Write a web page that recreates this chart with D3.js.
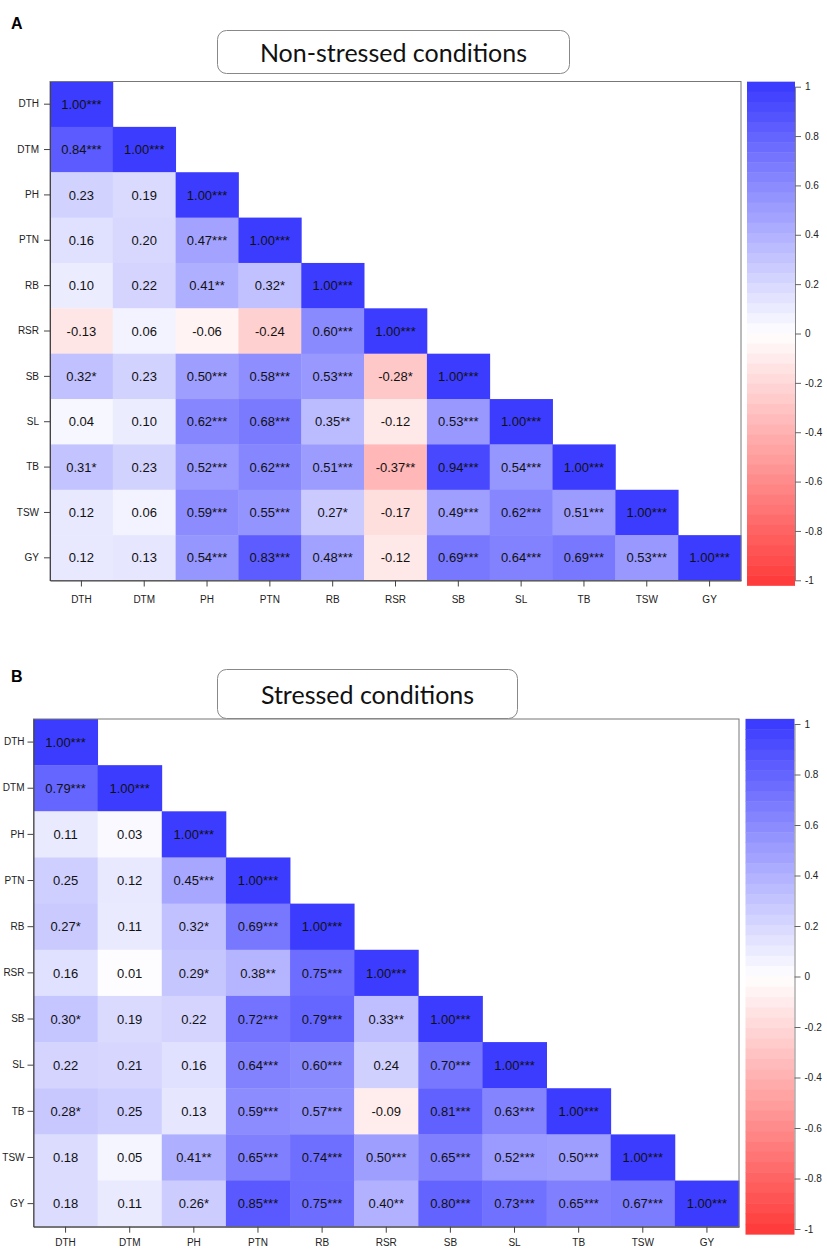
<!DOCTYPE html>
<html>
<head>
<meta charset="utf-8">
<script src="https://cdn.jsdelivr.net/npm/d3@7"></script>
<style>
  body { margin: 0; background: #fff; }
  svg { display: block; }
</style>
</head>
<body>
<div id="chart"></div>
<script>
// traits, same order on both axes
var traits = ["DTH", "DTM", "PH", "PTN", "RB", "RSR", "SB", "SL", "TB", "TSW", "GY"];

// A: non-stressed, lower triangle by row
var nsValues = [
  [1.00],
  [0.84, 1.00],
  [0.23, 0.19, 1.00],
  [0.16, 0.20, 0.47, 1.00],
  [0.10, 0.22, 0.41, 0.32, 1.00],
  [-0.13, 0.06, -0.06, -0.24, 0.60, 1.00],
  [0.32, 0.23, 0.50, 0.58, 0.53, -0.28, 1.00],
  [0.04, 0.10, 0.62, 0.68, 0.35, -0.12, 0.53, 1.00],
  [0.31, 0.23, 0.52, 0.62, 0.51, -0.37, 0.94, 0.54, 1.00],
  [0.12, 0.06, 0.59, 0.55, 0.27, -0.17, 0.49, 0.62, 0.51, 1.00],
  [0.12, 0.13, 0.54, 0.83, 0.48, -0.12, 0.69, 0.64, 0.69, 0.53, 1.00]
];
// number of significance stars
var nsStars = [
  [3],
  [3, 3],
  [0, 0, 3],
  [0, 0, 3, 3],
  [0, 0, 2, 1, 3],
  [0, 0, 0, 0, 3, 3],
  [1, 0, 3, 3, 3, 1, 3],
  [0, 0, 3, 3, 2, 0, 3, 3],
  [1, 0, 3, 3, 3, 2, 3, 3, 3],
  [0, 0, 3, 3, 1, 0, 3, 3, 3, 3],
  [0, 0, 3, 3, 3, 0, 3, 3, 3, 3, 3]
];

// B: stressed
var sValues = [
  [1.00],
  [0.79, 1.00],
  [0.11, 0.03, 1.00],
  [0.25, 0.12, 0.45, 1.00],
  [0.27, 0.11, 0.32, 0.69, 1.00],
  [0.16, 0.01, 0.29, 0.38, 0.75, 1.00],
  [0.30, 0.19, 0.22, 0.72, 0.79, 0.33, 1.00],
  [0.22, 0.21, 0.16, 0.64, 0.60, 0.24, 0.70, 1.00],
  [0.28, 0.25, 0.13, 0.59, 0.57, -0.09, 0.81, 0.63, 1.00],
  [0.18, 0.05, 0.41, 0.65, 0.74, 0.50, 0.65, 0.52, 0.50, 1.00],
  [0.18, 0.11, 0.26, 0.85, 0.75, 0.40, 0.80, 0.73, 0.65, 0.67, 1.00]
];
var sStars = [
  [3],
  [3, 3],
  [0, 0, 3],
  [0, 0, 3, 3],
  [1, 0, 1, 3, 3],
  [0, 0, 1, 2, 3, 3],
  [1, 0, 0, 3, 3, 2, 3],
  [0, 0, 0, 3, 3, 0, 3, 3],
  [1, 0, 0, 3, 3, 0, 3, 3, 3],
  [0, 0, 2, 3, 3, 3, 3, 3, 3, 3],
  [0, 0, 1, 3, 3, 2, 3, 3, 3, 3, 3]
];

var legendTicks = [1, 0.8, 0.6, 0.4, 0.2, 0, -0.2, -0.4, -0.6, -0.8, -1];

var W = 827, H = 1249;
var svg = d3.select("#chart").append("svg")
    .attr("width", W)
    .attr("height", H)
    .style("font-family", "'Liberation Sans', Arial, sans-serif");

var color = d3.scaleLinear()
    .domain([-1, 0, 1])
    .range(["#ff3c3c", "#ffffff", "#3c3cff"]);

function drawPanel(p) {
  var g = svg.append("g");

  // panel letter
  g.append("text")
    .attr("x", 11).attr("y", p.letterY)
    .attr("font-size", 16).attr("font-weight", "bold")
    .text(p.letter);

  // plot
  var x = d3.scaleBand().domain(traits).range([p.left, p.right]);
  var y = d3.scaleBand().domain(traits).range([p.top, p.bottom]);

  var cells = [];
  p.values.forEach(function (row, i) {
    row.forEach(function (v, j) {
      cells.push({ r: traits[i], c: traits[j], v: v, s: p.stars[i][j] });
    });
  });

  g.selectAll("rect.cell").data(cells).enter().append("rect")
    .attr("class", "cell")
    .attr("x", function (d) { return x(d.c); })
    .attr("y", function (d) { return y(d.r); })
    .attr("width", x.bandwidth() + 0.4)
    .attr("height", y.bandwidth() + 0.4)
    .attr("fill", function (d) { return color(d.v); });

  g.selectAll("text.val").data(cells).enter().append("text")
    .attr("class", "val")
    .attr("x", function (d) { return x(d.c) + x.bandwidth() / 2; })
    .attr("y", function (d) { return y(d.r) + y.bandwidth() / 2; })
    .attr("dy", "0.36em")
    .attr("text-anchor", "middle")
    .attr("font-size", 13)
    .attr("fill", "#111")
    .text(function (d) { return d.v.toFixed(2) + "***".slice(0, d.s); });

  // frame
  g.append("rect")
    .attr("x", p.left).attr("y", p.top)
    .attr("width", p.right - p.left).attr("height", p.bottom - p.top)
    .attr("fill", "none").attr("stroke", "#777").attr("stroke-width", 1);

  var yAxis = g.append("g")
    .attr("transform", "translate(" + p.left + ",0)")
    .call(d3.axisLeft(y).tickSize(6).tickSizeOuter(0).tickPadding(p.yPad));
  var xAxis = g.append("g")
    .attr("transform", "translate(0," + p.bottom + ")")
    .call(d3.axisBottom(x).tickSize(6).tickSizeOuter(0).tickPadding(p.xPad));
  [yAxis, xAxis].forEach(function (a) {
    a.select(".domain").attr("stroke", "#444");
    a.selectAll(".tick line").attr("stroke", "#444");
    a.selectAll(".tick text").attr("font-size", 10).attr("fill", "#222")
      .attr("font-family", "'Liberation Sans', Arial, sans-serif");
  });

  // title box
  g.append("rect")
    .attr("x", p.boxX).attr("y", p.boxY)
    .attr("width", p.boxW).attr("height", p.boxH)
    .attr("rx", 9).attr("ry", 9)
    .attr("fill", "#fff").attr("stroke", "#888").attr("stroke-width", 1);
  g.append("text")
    .attr("x", p.boxX + p.boxW / 2)
    .attr("y", p.titleY)
    .attr("text-anchor", "middle")
    .attr("font-family", "Lato, 'Open Sans', sans-serif")
    .attr("font-size", 25)
    .attr("fill", "#111")
    .text(p.title);

  // colour legend: 50 blocks, end labels at block centres
  var ly = d3.scaleLinear().domain([1, -1]).range([p.legTop, p.legBottom]);
  var nb = 50;
  var blocks = d3.range(nb).map(function (i) { return 1 - 2 * i / (nb - 1); });
  var bh = (p.legBottom - p.legTop) / (nb - 1);
  g.selectAll("rect.leg").data(blocks).enter().append("rect")
    .attr("class", "leg")
    .attr("x", p.legX)
    .attr("y", function (d) { return ly(d) - bh / 2; })
    .attr("width", p.legW)
    .attr("height", bh + 0.5)
    .attr("fill", function (d) { return color(d); });

  var legAxis = g.append("g")
    .attr("transform", "translate(" + (p.legX + p.legW) + ",0)")
    .call(d3.axisRight(ly).tickValues(legendTicks).tickSize(6).tickSizeOuter(0).tickPadding(4)
      .tickFormat(function (d) { return d === 0 ? "0" : String(+d.toFixed(1)); }));
  legAxis.select(".domain").attr("stroke", "#888");
  legAxis.selectAll(".tick line").attr("stroke", "#666");
  legAxis.selectAll(".tick text").attr("font-size", 10).attr("fill", "#222")
    .attr("font-family", "'Liberation Sans', Arial, sans-serif");
}

drawPanel({
  letter: "A", letterY: 28.5,
  title: "Non-stressed conditions",
  boxX: 217.5, boxY: 30.5, boxW: 352, boxH: 43, titleY: 61.5,
  values: nsValues, stars: nsStars,
  left: 50, right: 741, top: 81.5, bottom: 580.5, yPad: 5, xPad: 9,
  legX: 747, legW: 48, legTop: 86.7, legBottom: 580.3
});

drawPanel({
  letter: "B", letterY: 682,
  title: "Stressed conditions",
  boxX: 217.5, boxY: 669.5, boxW: 300, boxH: 49, titleY: 703.5,
  values: sValues, stars: sStars,
  left: 33.5, right: 739, top: 719, bottom: 1226.7, yPad: 3, xPad: 6,
  legX: 745.5, legW: 49, legTop: 724, legBottom: 1229
});
</script>
</body>
</html>
